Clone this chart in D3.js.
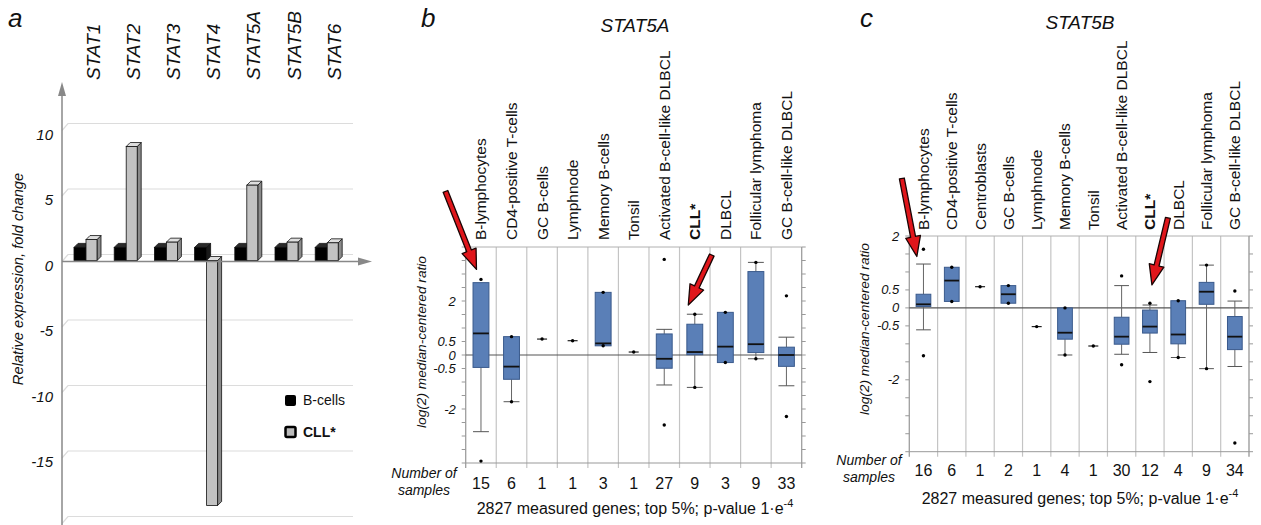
<!DOCTYPE html>
<html>
<head>
<meta charset="utf-8">
<script src="https://cdn.jsdelivr.net/npm/d3@7"></script>
<style>
body { margin: 0; background: #fff; }
svg text { font-family: "Liberation Sans", Arial, sans-serif; fill: #111; }
</style>
</head>
<body>
<div class="container"></div>
<script>
const w = 1261;
const h = 525;

// ---- panel a: relative expression
const genes = ["STAT1", "STAT2", "STAT3", "STAT4", "STAT5A", "STAT5B", "STAT6"];
const bCells = [1, 1, 1, 1, 1, 1, 1];
const cll = [1.6, 8.7, 1.4, -18.7, 5.75, 1.4, 1.35];
const foldTicks = [10, 5, 0, -5, -10, -15];
const foldGrid = [10, 5, 0, -5, -10, -15, -20];

// ---- panel b: STAT5A
const tissues5A = ["B-lymphocytes", "CD4-positive T-cells", "GC B-cells", "Lymphnode", "Memory B-cells", "Tonsil",
  "Activated B-cell-like DLBCL", "CLL*", "DLBCL", "Follicular lymphoma", "GC B-cell-like DLBCL"];
const n5A = [15, 6, 1, 1, 3, 1, 27, 9, 3, 9, 33];
const q1_5A = [-0.46, -0.9, 0.59, 0.53, 0.34, 0.11, -0.49, 0.01, -0.28, 0.09, -0.42];
const med5A = [0.8, -0.43, 0.59, 0.53, 0.43, 0.11, -0.14, 0.11, 0.31, 0.4, 0.0];
const q3_5A = [2.68, 0.68, 0.59, 0.53, 2.32, 0.11, 0.78, 1.14, 1.58, 3.09, 0.29];
const lo5A = [-2.84, -1.73, 0.59, 0.53, 0.34, 0.11, -1.11, -1.2, -0.28, -0.14, -1.14];
const hi5A = [2.68, 0.68, 0.59, 0.53, 2.32, 0.11, 0.95, 1.51, 1.58, 3.43, 0.66];
const dots5A = [[2.8, -3.93], [0.68, -1.73], [0.59], [0.53], [2.32, 0.34], [0.11], [3.54, -2.59],
  [1.51, -1.2], [1.58, -0.28], [3.43, -0.14], [2.19, -2.28]];

// ---- panel c: STAT5B
const tissues5B = ["B-lymphocytes", "CD4-positive T-cells", "Centroblasts", "GC B-cells", "Lymphnode", "Memory B-cells",
  "Tonsil", "Activated B-cell-like DLBCL", "CLL*", "DLBCL", "Follicular lymphoma", "GC B-cell-like DLBCL"];
const n5B = [16, 6, 1, 2, 1, 4, 1, 30, 12, 4, 9, 34];
const q1_5B = [0.04, 0.18, 0.59, 0.13, -0.52, -0.87, -1.06, -1.01, -0.7, -1.0, 0.1, -1.16];
const med5B = [0.1, 0.76, 0.59, 0.38, -0.52, -0.69, -1.06, -0.8, -0.52, -0.74, 0.45, -0.8];
const q3_5B = [0.38, 1.13, 0.59, 0.62, -0.52, 0, -1.06, -0.26, -0.06, 0.2, 0.71, -0.24];
const lo5B = [-0.61, 0.18, 0.59, 0.13, -0.52, -1.31, -1.06, -1.29, -1.24, -1.38, -1.69, -1.63];
const hi5B = [1.22, 1.13, 0.59, 0.62, -0.52, 0, -1.06, 0.62, 0.08, 0.2, 1.19, 0.19];
const dots5B = [[1.63, -1.33], [1.13, 0.18], [0.59], [0.62, 0.13], [-0.52], [0, -1.31], [-1.06],
  [0.89, -1.58], [0.13, -2.05], [0.2, -1.38], [1.19, -1.69], [0.47, -3.76]];

const logTicks = [2, 0.5, 0, -0.5, -2];

const svg = d3.select(".container")
  .append("svg")
  .attr("width", w)
  .attr("height", h);

// panel letters
[["a", 8, 27], ["b", 421, 27], ["c", 860, 27]].forEach(p => {
  svg.append("text").attr("x", p[1]).attr("y", p[2])
    .style("font-size", "26px").style("font-style", "italic").text(p[0]);
});

// ================= panel a =================
const ya = d3.scaleLinear().domain([-20, 10]).range([516.5, 123.5]);
const xa = d3.scaleBand().domain(genes).range([74, 355.4]);
const axX = 62, dep = 6;
const gA = svg.append("g");

gA.selectAll("path.grid").data(foldGrid).join("path")
  .attr("class", "grid")
  .attr("d", v => `M${axX},${ya(v) + 7}L${axX + dep},${ya(v)}H353`)
  .attr("fill", "none").attr("stroke", "#dcdcdc").attr("stroke-width", 1.2);

gA.selectAll("text.tick").data(foldTicks).join("text")
  .attr("class", "tick")
  .attr("x", 53).attr("y", v => ya(v) + 11).attr("dy", "0.35em")
  .attr("text-anchor", "end")
  .style("font-size", "15px").style("font-style", "italic")
  .text(d => d);

gA.append("text")
  .attr("transform", "translate(23,279) rotate(-90)")
  .attr("text-anchor", "middle")
  .style("font-size", "14.7px").style("font-style", "italic")
  .text("Relative expression, fold change");

gA.selectAll("text.gene").data(genes).join("text")
  .attr("class", "gene")
  .attr("transform", d => `translate(${xa(d) + 19},80) rotate(-90)`)
  .attr("dy", "0.35em")
  .style("font-size", "19px").style("font-style", "italic")
  .text(d => d);

const yBar = v => ya(v) + 6;
function bar3d(g, x, bw, v, front, top, side) {
  const d = 4;
  const y0 = Math.min(yBar(v), yBar(0)), y1 = Math.max(yBar(v), yBar(0));
  g.append("path").attr("d", `M${x + bw},${y0}L${x + bw + d},${y0 - d}V${y1 - d}L${x + bw},${y1}Z`)
    .attr("fill", side).attr("stroke", "#111").attr("stroke-width", 0.8);
  g.append("path").attr("d", `M${x},${y0}L${x + d},${y0 - d}H${x + bw + d}L${x + bw},${y0}Z`)
    .attr("fill", top).attr("stroke", "#111").attr("stroke-width", 0.8);
  g.append("rect").attr("x", x).attr("y", y0).attr("width", bw).attr("height", y1 - y0)
    .attr("fill", front).attr("stroke", "#111").attr("stroke-width", 0.8);
}
genes.forEach((gname, i) => {
  const x = xa(gname);
  bar3d(gA, x, 12, bCells[i], "#000", "#2a2a2a", "#1a1a1a");
  bar3d(gA, x + 12, 11, cll[i], "#c2c2c2", "#dedede", "#8a8a8a");
});

// axes with arrows
const y0a = ya(0) + 7;
gA.append("path").attr("d", `M${axX},525V92`).attr("stroke", "#888").attr("stroke-width", 1.5);
gA.append("path").attr("d", `M${axX},82L${axX - 4},96H${axX + 4}Z`).attr("fill", "#888");
gA.append("path").attr("d", `M${axX},${y0a}H362`).attr("stroke", "#888").attr("stroke-width", 1.5);
gA.append("path").attr("d", `M372,${y0a}L358,${y0a - 4}V${y0a + 4}Z`).attr("fill", "#888");

// legend
const lg = gA.append("g");
lg.append("rect").attr("x", 285).attr("y", 395).attr("width", 11).attr("height", 11).attr("rx", 2).attr("fill", "#000");
lg.append("text").attr("x", 303).attr("y", 400).attr("dy", "0.35em").style("font-size", "14px").text("B-cells");
lg.append("rect").attr("x", 285.5).attr("y", 427).attr("width", 10).attr("height", 10).attr("rx", 1.5)
  .attr("fill", "#bbb").attr("stroke", "#000").attr("stroke-width", 2.5);
lg.append("text").attr("x", 303).attr("y", 432).attr("dy", "0.35em").style("font-size", "14px")
  .style("font-weight", "bold").text("CLL*");

// ================= panels b and c =================
function arrowPoly(sx, sy, tx, ty) {
  const dx = tx - sx, dy = ty - sy, L = Math.hypot(dx, dy);
  const ux = dx / L, uy = dy / L, px = -uy, py = ux;
  const hl = 20, hw = 7.5, sw = 2.5;
  const bx = tx - ux * hl, by = ty - uy * hl;
  return [[sx + px * sw, sy + py * sw], [bx + px * sw, by + py * sw], [bx + px * hw, by + py * hw], [tx, ty],
    [bx - px * hw, by - py * hw], [bx - px * sw, by - py * sw], [sx - px * sw, sy - py * sw]];
}

function boxPanel(c) {
  const g = svg.append("g");
  const x = d3.scaleBand().domain(c.tissues).range([c.left, c.right]);
  const y = d3.scaleLinear().domain(c.domain).range([c.bottom, c.top]);
  const bw = x.bandwidth() * 0.52;
  const halfTicks = d3.range(c.domain[0], c.domain[1] + 0.01, 0.5);

  // title
  g.append("text").attr("x", c.titleX).attr("y", c.titleY).attr("text-anchor", "middle")
    .style("font-size", "19px").style("font-style", "italic").text(c.title);

  // column separators
  const seps = c.tissues.map(t => x(t)).concat([c.right]);
  g.selectAll("line.sep").data(seps).join("line")
    .attr("x1", d => d).attr("x2", d => d).attr("y1", c.top).attr("y2", c.bottom + 5)
    .attr("stroke", "#c4c4c4").attr("stroke-width", 1.2);
  g.append("line").attr("x1", c.left).attr("x2", c.right).attr("y1", c.top).attr("y2", c.top)
    .attr("stroke", "#b0b0b0");
  g.append("line").attr("x1", c.left).attr("x2", c.right).attr("y1", c.bottom).attr("y2", c.bottom)
    .attr("stroke", "#999");
  g.append("line").attr("x1", c.left).attr("x2", c.left).attr("y1", c.top).attr("y2", c.bottom + 5)
    .attr("stroke", "#999");
  g.append("line").attr("x1", c.right).attr("x2", c.right).attr("y1", c.top).attr("y2", c.bottom + 5)
    .attr("stroke", "#999");
  // small ticks on both sides
  g.selectAll("line.rt").data(halfTicks).join("line")
    .attr("x1", c.right).attr("x2", c.right + 4).attr("y1", d => y(d)).attr("y2", d => y(d))
    .attr("stroke", "#999");
  g.selectAll("line.lt").data(halfTicks).join("line")
    .attr("x1", c.left - 4).attr("x2", c.left).attr("y1", d => y(d)).attr("y2", d => y(d))
    .attr("stroke", "#999");

  // zero line
  g.append("line").attr("x1", c.left).attr("x2", c.right).attr("y1", y(0)).attr("y2", y(0))
    .attr("stroke", "#555").attr("stroke-width", 1.2);

  // tick labels
  g.selectAll("text.yt").data(logTicks).join("text")
    .attr("x", c.left - 10).attr("y", d => y(d)).attr("dy", "0.35em").attr("text-anchor", "end")
    .style("font-size", "13px").style("font-style", "italic").text(d => d);

  g.append("text")
    .attr("transform", `translate(${c.ylabX},${c.ylabY}) rotate(-90)`)
    .attr("text-anchor", "middle")
    .style("font-size", "13.7px").style("font-style", "italic")
    .text("log(2) median-centered ratio");

  // tissue labels
  g.selectAll("text.tl").data(c.tissues).join("text")
    .attr("transform", d => `translate(${x(d) + x.bandwidth() / 2},${c.labY}) rotate(-90)`)
    .attr("dy", "0.35em")
    .style("font-size", "15.5px")
    .style("font-weight", d => d === "CLL*" ? "bold" : "normal")
    .text(d => d);

  // boxes
  c.tissues.forEach((t, i) => {
    const cx = x(t) + x.bandwidth() / 2;
    if (c.n[i] === 1) {
      g.append("line").attr("x1", cx - 5).attr("x2", cx + 5).attr("y1", y(c.med[i])).attr("y2", y(c.med[i]))
        .attr("stroke", "#222").attr("stroke-width", 1.2);
    } else {
      if (c.hi[i] > c.q3[i]) {
        g.append("line").attr("x1", cx).attr("x2", cx).attr("y1", y(c.hi[i])).attr("y2", y(c.q3[i])).attr("stroke", "#666");
        g.append("line").attr("x1", cx - bw / 2).attr("x2", cx + bw / 2).attr("y1", y(c.hi[i])).attr("y2", y(c.hi[i])).attr("stroke", "#555");
      }
      if (c.lo[i] < c.q1[i]) {
        g.append("line").attr("x1", cx).attr("x2", cx).attr("y1", y(c.q1[i])).attr("y2", y(c.lo[i])).attr("stroke", "#666");
        g.append("line").attr("x1", cx - bw / 2).attr("x2", cx + bw / 2).attr("y1", y(c.lo[i])).attr("y2", y(c.lo[i])).attr("stroke", "#555");
      }
      g.append("rect").attr("x", cx - bw / 2).attr("y", y(c.q3[i])).attr("width", bw)
        .attr("height", y(c.q1[i]) - y(c.q3[i]))
        .attr("fill", "#5a7fb7").attr("stroke", "#3a5a8c");
      g.append("line").attr("x1", cx - bw / 2).attr("x2", cx + bw / 2).attr("y1", y(c.med[i])).attr("y2", y(c.med[i]))
        .attr("stroke", "#111").attr("stroke-width", 1.8);
    }
    g.selectAll(null).data(c.dots[i]).join("circle")
      .attr("cx", cx).attr("cy", d => y(d)).attr("r", 1.7).attr("fill", "#000");
  });

  // number of samples
  g.selectAll("text.ns").data(c.n).join("text")
    .attr("x", (d, i) => x(c.tissues[i]) + x.bandwidth() / 2).attr("y", c.nY).attr("dy", "0.35em")
    .attr("text-anchor", "middle").style("font-size", "16px").text(d => d);
  g.append("text").attr("x", c.nsX).attr("y", c.nY - 10).attr("dy", "0.35em").attr("text-anchor", "middle")
    .style("font-size", "14px").style("font-style", "italic").text("Number of");
  g.append("text").attr("x", c.nsX).attr("y", c.nY + 7).attr("dy", "0.35em").attr("text-anchor", "middle")
    .style("font-size", "14px").style("font-style", "italic").text("samples");

  const ft = g.append("text").attr("x", c.titleX).attr("y", c.footY).attr("text-anchor", "middle")
    .style("font-size", "16px");
  ft.append("tspan").text("2827 measured genes; top 5%; p-value 1·e");
  ft.append("tspan").attr("dy", -7).style("font-size", "11px").text("-4");

  // red arrows
  c.arrows.forEach(a => {
    const tx = x(c.tissues[a.col]) + x.bandwidth() / 2 + a.dx;
    const ty = y(a.v);
    g.append("polygon")
      .attr("points", arrowPoly(tx + a.sx, ty + a.sy, tx, ty).map(p => p.join(",")).join(" "))
      .attr("fill", "#e0161b").attr("stroke", "#1a0505").attr("stroke-width", 1.3)
      .attr("stroke-linejoin", "round");
  });
}

boxPanel({
  tissues: tissues5A, n: n5A, q1: q1_5A, med: med5A, q3: q3_5A, lo: lo5A, hi: hi5A, dots: dots5A,
  left: 465.7, right: 801.7, top: 247, bottom: 463, domain: [-4, 4],
  title: "STAT5A", titleX: 635, titleY: 32, labY: 240,
  ylabX: 426, ylabY: 342, nY: 483, nsX: 424, footY: 514,
  arrows: [{ col: 0, v: 3.17, dx: -4.5, sx: -31, sy: -78 }, { col: 7, v: 1.85, dx: -6.5, sx: 23.5, sy: -50 }]
});

boxPanel({
  tissues: tissues5B, n: n5B, q1: q1_5B, med: med5B, q3: q3_5B, lo: lo5B, hi: hi5B, dots: dots5B,
  left: 909.3, right: 1249, top: 236, bottom: 451.7, domain: [-4, 2],
  title: "STAT5B", titleX: 1080, titleY: 29, labY: 230,
  ylabX: 869, ylabY: 329, nY: 470, nsX: 869, footY: 504,
  arrows: [{ col: 0, v: 1.43, dx: -6.6, sx: -15, sy: -78 }, { col: 8, v: 0.64, dx: 2, sx: 16, sy: -67 }]
});
</script>
</body>
</html>
